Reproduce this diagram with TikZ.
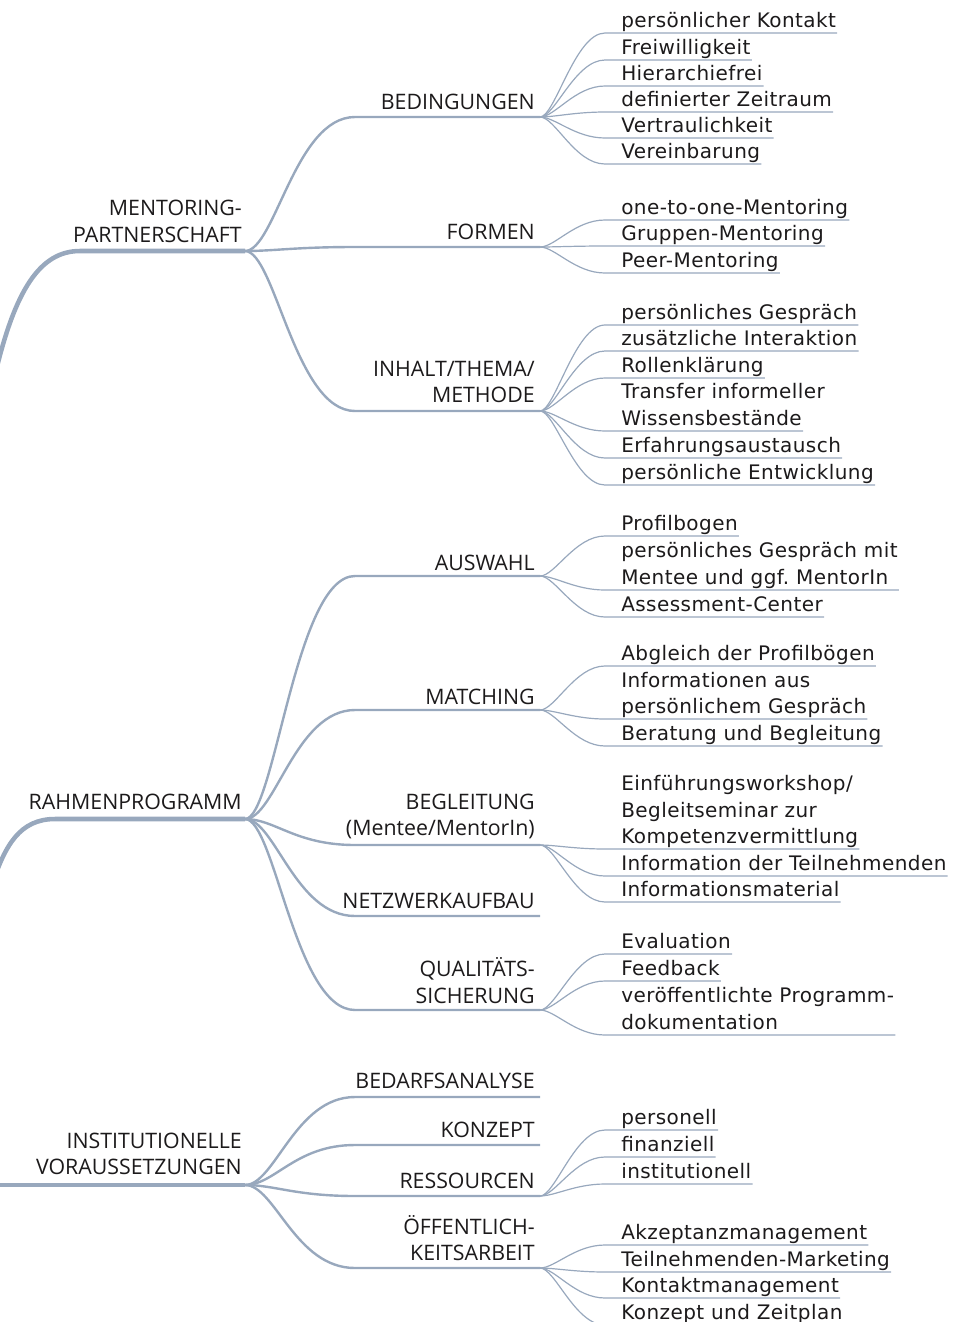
\documentclass[tikz,border=0pt]{standalone}
\usepackage{fontspec}
\newfontfamily\capfont{Open Sans}
\newfontfamily\leaffnt[LetterSpace=2.2]{DejaVu Sans}
\definecolor{ln}{RGB}{152,168,189}
\definecolor{txt}{RGB}{28,26,27}
\begin{document}
\begin{tikzpicture}[x=0.75pt,y=-0.75pt,
  captxt/.style={font=\capfont\fontsize{16}{20}\selectfont, text=txt, anchor=base east, inner sep=0pt},
  leaf/.style={font=\leaffnt\fontsize{15}{20}\selectfont, text=txt, anchor=base west, inner sep=0pt},
  trunk/.style={draw=ln, line width=3.4pt},
  branch/.style={draw=ln, line width=1.8pt},
  twig/.style={draw=ln, line width=0.9pt},
  ulend/.style={shift={(1,6)}}, ulstart/.style={shift={(-16,6)}}]
\useasboundingbox (0,0) rectangle (973,1322);
\clip (0,0) rectangle (973,1322);

% ---------- level 1 ----------
\coordinate (mpin) at (-5,375);
\coordinate (mp) at (245,251);
\node[captxt] (mp1) at (242,215) {MENTORING-};
\node[captxt] (mp2) at (242,242) {PARTNERSCHAFT};
\draw[trunk] (mpin) .. controls (15,290) and (40,251) .. (80,251) -- (mp);

\coordinate (rpin) at (-8,885);
\coordinate (rp) at (245,819);
\node[captxt] (rp1) at (242,809) {RAHMENPROGRAMM};
\draw[trunk] (rpin) .. controls (5,845) and (20,819) .. (55,819) -- (rp);

\coordinate (ivin) at (-5,1185);
\coordinate (iv) at (245,1185);
\node[captxt] (iv1) at (242,1148) {INSTITUTIONELLE};
\node[captxt] (iv2) at (242,1174) {VORAUSSETZUNGEN};
\draw[trunk] (ivin) -- (iv);

% ---------- level 2 ----------
\node[captxt] (bed) at (535,109) {BEDINGUNGEN};
\coordinate (bedL) at (355,117); \coordinate (bedR) at (540,117);
\draw[branch] (mp) .. controls +(30,0) and +(-60,0) .. (bedL) -- (bedR);

\node[captxt] (for) at (535,239) {FORMEN};
\coordinate (forL) at (355,247); \coordinate (forR) at (540,247);
\draw[branch] (mp) .. controls +(30,0) and +(-60,0) .. (forL) -- (forR);

\node[captxt] (inh1) at (535,376) {INHALT/THEMA/};
\node[captxt] (inh2) at (535,402) {METHODE};
\coordinate (inhL) at (355,411); \coordinate (inhR) at (540,411);
\draw[branch] (mp) .. controls +(30,0) and +(-60,0) .. (inhL) -- (inhR);

\node[captxt] (aus) at (535,570) {AUSWAHL};
\coordinate (ausL) at (355,576); \coordinate (ausR) at (540,576);
\draw[branch] (rp) .. controls +(30,0) and +(-60,0) .. (ausL) -- (ausR);

\node[captxt] (mat) at (535,704) {MATCHING};
\coordinate (matL) at (355,710); \coordinate (matR) at (540,710);
\draw[branch] (rp) .. controls +(30,0) and +(-60,0) .. (matL) -- (matR);

\node[captxt] (beg1) at (535,809) {BEGLEITUNG};
\node[captxt] (beg2) at (535,835) {(Mentee/MentorIn)};
\coordinate (begL) at (355,845); \coordinate (begR) at (540,845);
\draw[branch] (rp) .. controls +(30,0) and +(-60,0) .. (begL) -- (begR);

\node[captxt] (net) at (535,908) {NETZWERKAUFBAU};
\coordinate (netL) at (355,916); \coordinate (netR) at (540,916);
\draw[branch] (rp) .. controls +(30,0) and +(-60,0) .. (netL) -- (netR);

\node[captxt] (qua1) at (535,976) {QUALITÄTS-};
\node[captxt] (qua2) at (535,1003) {SICHERUNG};
\coordinate (quaL) at (355,1010); \coordinate (quaR) at (540,1010);
\draw[branch] (rp) .. controls +(30,0) and +(-60,0) .. (quaL) -- (quaR);

\node[captxt] (bda) at (535,1088) {BEDARFSANALYSE};
\coordinate (bdaL) at (355,1097); \coordinate (bdaR) at (540,1097);
\draw[branch] (iv) .. controls +(30,0) and +(-60,0) .. (bdaL) -- (bdaR);

\node[captxt] (kon) at (535,1137) {KONZEPT};
\coordinate (konL) at (355,1145); \coordinate (konR) at (540,1145);
\draw[branch] (iv) .. controls +(30,0) and +(-60,0) .. (konL) -- (konR);

\node[captxt] (res) at (535,1188) {RESSOURCEN};
\coordinate (resL) at (355,1196); \coordinate (resR) at (540,1196);
\draw[branch] (iv) .. controls +(30,0) and +(-60,0) .. (resL) -- (resR);

\node[captxt] (oef1) at (535,1234) {ÖFFENTLICH-};
\node[captxt] (oef2) at (535,1260) {KEITSARBEIT};
\coordinate (oefL) at (355,1268); \coordinate (oefR) at (540,1268);
\draw[branch] (iv) .. controls +(30,0) and +(-60,0) .. (oefL) -- (oefR);

% ---------- leaves ----------
% BEDINGUNGEN
\node[leaf] (b1) at (621,27) {persönlicher Kontakt};
\node[leaf] (b2) at (621,54) {Freiwilligkeit};
\node[leaf] (b3) at (621,80) {Hierarchiefrei};
\node[leaf] (b4) at (621,106) {definierter Zeitraum};
\node[leaf] (b5) at (621,132) {Vertraulichkeit};
\node[leaf] (b6) at (621,158) {Vereinbarung};
\foreach \n in {b1,b2,b3,b4,b5,b6}
  \draw[twig] (bedR) .. controls +(15,0) and +(-30,0) .. ([ulstart]\n.base west) -- ([ulend]\n.base east);

% FORMEN
\node[leaf] (f1) at (621,214) {one-to-one-Mentoring};
\node[leaf] (f2) at (621,240) {Gruppen-Mentoring};
\node[leaf] (f3) at (621,267) {Peer-Mentoring};
\foreach \n in {f1,f2,f3}
  \draw[twig] (forR) .. controls +(15,0) and +(-30,0) .. ([ulstart]\n.base west) -- ([ulend]\n.base east);

% INHALT
\node[leaf] (i1) at (621,319) {persönliches Gespräch};
\node[leaf] (i2) at (621,345) {zusätzliche Interaktion};
\node[leaf] (i3) at (621,372) {Rollenklärung};
\node[leaf] (i4a) at (621,398) {Transfer informeller};
\node[leaf] (i4) at (621,425) {Wissensbestände};
\node[leaf] (i5) at (621,452) {Erfahrungsaustausch};
\node[leaf] (i6) at (621,479) {persönliche Entwicklung};
\foreach \n in {i1,i2,i3,i4,i5,i6}
  \draw[twig] (inhR) .. controls +(15,0) and +(-30,0) .. ([ulstart]\n.base west) -- ([ulend]\n.base east);

% AUSWAHL
\node[leaf] (a1) at (621,530) {Profilbogen};
\node[leaf] (a2a) at (621,557) {persönliches Gespräch mit};
\node[leaf] (a2) at (621,584) {Mentee und ggf.\ MentorIn};
\node[leaf] (a3) at (621,611) {Assessment-Center};
\draw[twig] (ausR) .. controls +(15,0) and +(-30,0) .. ([ulstart]a1.base west) -- ([ulend]a1.base east);
\draw[twig] (ausR) .. controls +(15,0) and +(-30,0) .. ([ulstart]a2.base west) -- ([ulend]a2.base west -| a2a.base east);
\draw[twig] (ausR) .. controls +(15,0) and +(-30,0) .. ([ulstart]a3.base west) -- ([ulend]a3.base east);

% MATCHING
\node[leaf] (m1) at (621,660) {Abgleich der Profilbögen};
\node[leaf] (m2a) at (621,687) {Informationen aus};
\node[leaf] (m2) at (621,713) {persönlichem Gespräch};
\node[leaf] (m3) at (621,740) {Beratung und Begleitung};
\foreach \n in {m1,m2,m3}
  \draw[twig] (matR) .. controls +(15,0) and +(-30,0) .. ([ulstart]\n.base west) -- ([ulend]\n.base east);

% BEGLEITUNG
\node[leaf] (g1a) at (621,790) {Einführungsworkshop/};
\node[leaf] (g1b) at (621,817) {Begleitseminar zur};
\node[leaf] (g1) at (621,843) {Kompetenzvermittlung};
\node[leaf] (g2) at (621,870) {Information der Teilnehmenden};
\node[leaf] (g3) at (621,896) {Informationsmaterial};
\foreach \n in {g1,g2,g3}
  \draw[twig] (begR) .. controls +(15,0) and +(-30,0) .. ([ulstart]\n.base west) -- ([ulend]\n.base east);

% QUALITAETSSICHERUNG
\node[leaf] (q1) at (621,948) {Evaluation};
\node[leaf] (q2) at (621,975) {Feedback};
\node[leaf] (q3a) at (621,1002) {veröffentlichte Programm-};
\node[leaf] (q3) at (621,1029) {dokumentation};
\draw[twig] (quaR) .. controls +(15,0) and +(-30,0) .. ([ulstart]q1.base west) -- ([ulend]q1.base east);
\draw[twig] (quaR) .. controls +(15,0) and +(-30,0) .. ([ulstart]q2.base west) -- ([ulend]q2.base east);
\draw[twig] (quaR) .. controls +(15,0) and +(-30,0) .. ([ulstart]q3.base west) -- ([ulend]q3.base west -| q3a.base east);

% RESSOURCEN
\node[leaf] (r1) at (621,1124) {personell};
\node[leaf] (r2) at (621,1151) {finanziell};
\node[leaf] (r3) at (621,1178) {institutionell};
\foreach \n in {r1,r2,r3}
  \draw[twig] (resR) .. controls +(15,0) and +(-30,0) .. ([ulstart]\n.base west) -- ([ulend]\n.base east);

% OEFFENTLICHKEITSARBEIT
\node[leaf] (o1) at (621,1239) {Akzeptanzmanagement};
\node[leaf] (o2) at (621,1266) {Teilnehmenden-Marketing};
\node[leaf] (o3) at (621,1292) {Kontaktmanagement};
\node[leaf] (o4) at (621,1319) {Konzept und Zeitplan};
\foreach \n in {o1,o2,o3,o4}
  \draw[twig] (oefR) .. controls +(15,0) and +(-30,0) .. ([ulstart]\n.base west) -- ([ulend]\n.base east);
\end{tikzpicture}
\end{document}
